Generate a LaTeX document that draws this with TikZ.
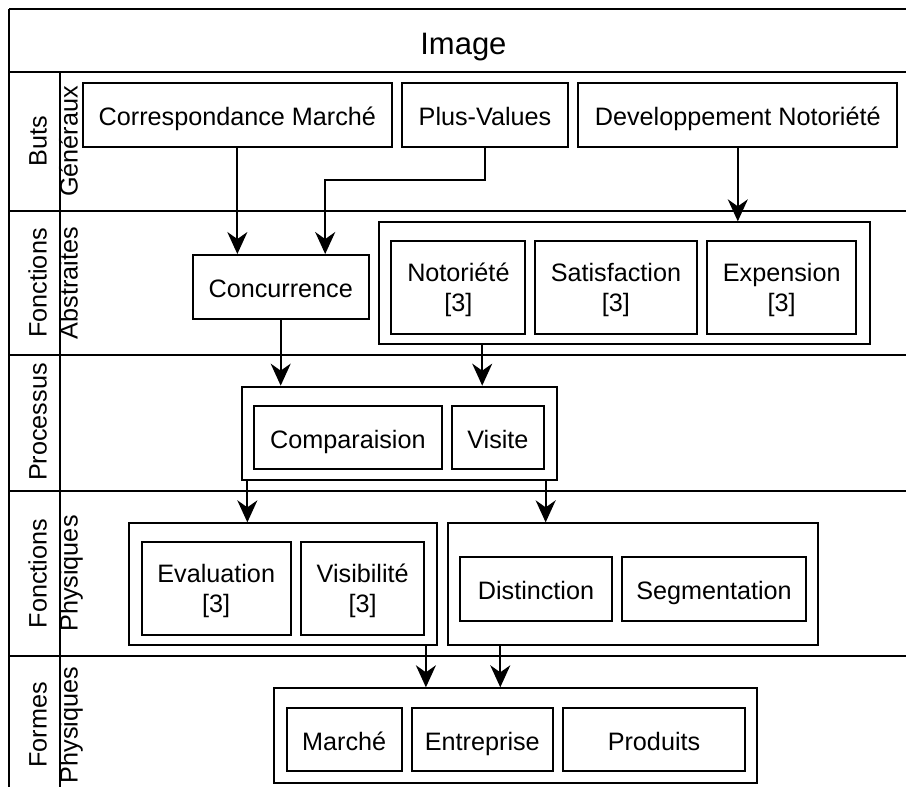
\documentclass[tikz,border=0pt]{standalone}
\usepackage{fontspec}
\setmainfont{Liberation Sans}
\usetikzlibrary{arrows.meta,calc}
\begin{document}
\begin{tikzpicture}[x=1pt,y=-1pt,
  frameline/.style={line width=2pt},
  box/.style={draw, line width=2pt, inner sep=0pt, align=center, font=\fontsize{25.2}{30}\selectfont, text height=22pt, text depth=0.6pt},
  boxtwo/.style={box, text height=52pt, text depth=3.6pt},
  grp/.style={draw, line width=2pt, inner sep=0pt},
  lanelabel/.style={rotate=90, anchor=base, inner sep=0pt, font=\fontsize{25.2}{30}\selectfont},
  conn/.style={line width=2pt, -{Stealth[length=22pt,width=20pt,inset=7pt]}}
]
\useasboundingbox (0,0) rectangle (906,787);
\clip (0,0) rectangle (906,787);

% frame and lanes
\draw[frameline] (9,9) -- (915,9);
\draw[frameline] (9,9) -- (9,800);
\draw[frameline] (9,72) -- (915,72);
\draw[frameline] (60,72) -- (60,800);
\draw[frameline] (9,211) -- (915,211);
\draw[frameline] (9,355) -- (915,355);
\draw[frameline] (9,491) -- (915,491);
\draw[frameline] (9,656) -- (915,656);

\node[font=\fontsize{31}{36}\selectfont, anchor=base, inner sep=0pt] (title) at (463.4,54) {Image};

% lane labels
\node[lanelabel] (l1a) at (46.5,141.5) {Buts};
\node[lanelabel] (l1b) at (77.5,141.5) {Généraux};
\node[lanelabel] (l2a) at (46.5,283) {Fonctions};
\node[lanelabel] (l2b) at (77.5,283) {Abstraites};
\node[lanelabel] (l3a) at (46.5,422) {Processus};
\node[lanelabel] (l4a) at (46.5,573.5) {Fonctions};
\node[lanelabel] (l4b) at (77.5,573.5) {Physiques};
\node[lanelabel] (l5a) at (46.5,725) {Formes};
\node[lanelabel] (l5b) at (77.5,725) {Physiques};

% Buts generaux
\node[box, minimum width=309.3pt, minimum height=63.4pt] (corr) at (237.35,115) {Correspondance Marché};
\node[box, minimum width=166.6pt, minimum height=63.4pt] (pv) at (485,115) {Plus-Values};
\node[box, minimum width=319pt, minimum height=63.4pt] (dev) at (737.8,115) {Developpement Notoriété};

% Fonctions abstraites
\node[box, minimum width=176pt, minimum height=64.3pt] (conc) at (280.7,287.2) {Concurrence};
\node[grp, minimum width=491pt, minimum height=121.7pt] (agrp) at (624,283.2) {};
\node[boxtwo, minimum width=134.1pt, minimum height=93pt] (noto) at (458.4,287.5) {Notoriété\\{[3]}};
\node[boxtwo, minimum width=162.2pt, minimum height=93pt] (satis) at (615.9,287.5) {Satisfaction\\{[3]}};
\node[boxtwo, minimum width=149.1pt, minimum height=93pt] (expe) at (781.7,287.5) {Expension\\{[3]}};

% Processus
\node[grp, minimum width=315pt, minimum height=93.3pt] (pgrp) at (399.2,433.3) {};
\node[box, minimum width=187.7pt, minimum height=63.3pt] (comp) at (347.9,437.7) {Comparaision};
\node[box, minimum width=92.3pt, minimum height=63.3pt] (visi) at (497.9,437.7) {Visite};

% Fonctions physiques
\node[grp, minimum width=308pt, minimum height=121.7pt] (fgrp1) at (283.3,584.2) {};
\node[boxtwo, minimum width=149pt, minimum height=92.7pt] (eval) at (216.2,588.7) {Evaluation\\{[3]}};
\node[boxtwo, minimum width=123.3pt, minimum height=92.7pt] (visib) at (362.7,588.7) {Visibilité\\{[3]}};
\node[grp, minimum width=370.6pt, minimum height=121.7pt] (fgrp2) at (633,584.2) {};
\node[box, minimum width=152pt, minimum height=64pt] (dist) at (536,588.7) {Distinction};
\node[box, minimum width=184pt, minimum height=64pt] (segm) at (714,588.7) {Segmentation};

% Formes physiques
\node[grp, minimum width=483pt, minimum height=94.4pt] (formgrp) at (515.5,735.5) {};
\node[box, minimum width=115pt, minimum height=63.3pt] (march) at (344.2,739.3) {Marché};
\node[box, minimum width=141.3pt, minimum height=63.3pt] (entr) at (482.3,739.3) {Entreprise};
\node[box, minimum width=182pt, minimum height=63.3pt] (prod) at (654,739.3) {Produits};

% connectors
\draw[conn] (corr.south) -- (corr.south |- conc.north);
\draw[conn] (pv.south) -- ++(0,32) -| ($(conc.north west)!0.75!(conc.north east)$);
\draw[conn] (dev.south) -- (dev.south |- agrp.north);
\draw[conn] (conc.south) -- (conc.south |- pgrp.north);
\coordinate (pin1) at ($(pgrp.north west)!0.7619!(pgrp.north east)$);
\draw[conn] (pin1 |- agrp.south) -- (pin1);
\coordinate (pout1) at ($(pgrp.south west)!0.021!(pgrp.south east)$);
\coordinate (pout2) at ($(pgrp.south west)!0.962!(pgrp.south east)$);
\draw[conn] (pout1) -- (pout1 |- fgrp1.north);
\draw[conn] (pout2) -- (pout2 |- fgrp2.north);
\coordinate (fout1) at ($(fgrp1.south west)!0.96!(fgrp1.south east)$);
\coordinate (fout2) at ($(fgrp2.south west)!0.1438!(fgrp2.south east)$);
\draw[conn] (fout1) -- (fout1 |- formgrp.north);
\draw[conn] (fout2) -- (fout2 |- formgrp.north);
\end{tikzpicture}
\end{document}
